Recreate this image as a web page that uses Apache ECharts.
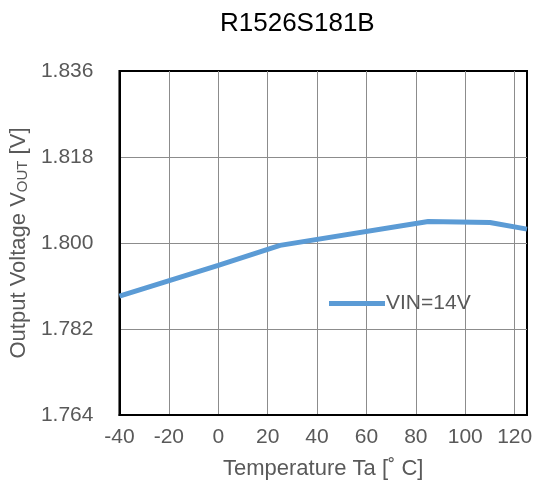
<!DOCTYPE html>
<html>
<head>
<meta charset="utf-8">
<script src="https://cdn.jsdelivr.net/npm/echarts@6/dist/echarts.min.js"></script>
<style>html,body{margin:0;padding:0;background:#fff}#c{width:536px;height:491px}</style>
</head>
<body>
<div id="c"></div>
<script>
const titleText = 'R1526S181B';
const seriesName = 'VIN=14V';
const temps = [-40, 0, 25, 85, 110, 125];
const vout = [1.7889, 1.7953, 1.7995, 1.8045, 1.8043, 1.8029];
const xMin = -40, xMax = 125, xStep = 20;
const yMin = 1.764, yMax = 1.836, yStep = 0.018;

const chart = echarts.init(document.getElementById('c'), null, {renderer: 'canvas'});
const font = 'Liberation Sans, Arial, sans-serif';
const gray = '#595959';
chart.setOption({
  animation: false,
  title: {
    text: titleText, left: 215, top: 6,
    textStyle: {fontFamily: font, fontSize: 26, fontWeight: 'normal', color: '#000'}
  },
  legend: {
    left: 324, top: 288, itemWidth: 56, itemHeight: 5, itemGap: 0,
    textStyle: {fontFamily: font, fontSize: 21, color: gray, padding: [0, 0, 0, -4]},
    data: [{name: seriesName, icon: 'path://M0,0 L56,0 L56,5 L0,5 Z'}]
  },
  grid: {left: 116, right: 9, top: 71, bottom: 76, show: true, borderColor: '#000', borderWidth: 2},
  xAxis: {
    type: 'value', min: xMin, max: xMax, interval: xStep,
    name: 'Temperature Ta [˚ C]', nameLocation: 'middle', nameGap: 43,
    nameTextStyle: {fontFamily: font, fontSize: 22, color: gray},
    axisLine: {show: true, onZero: false, lineStyle: {color: '#000', width: 2}}, axisTick: {show: false},
    axisLabel: {fontFamily: font, fontSize: 21, color: gray, margin: 12, showMaxLabel: false},
    splitLine: {show: true, showMinLine: false, showMaxLine: false, lineStyle: {color: '#8c8c8c', width: 1}}
  },
  yAxis: {
    type: 'value', min: yMin, max: yMax, interval: yStep,
    name: 'Output Voltage V{s|OUT} [V]', nameLocation: 'middle', nameGap: 84, nameRotate: 90,
    nameTextStyle: {fontFamily: font, fontSize: 22, color: gray,
      rich: {s: {fontFamily: font, fontSize: 15, color: gray, verticalAlign: 'bottom', padding: [6,0,0,0]}}},
    axisLine: {show: true, onZero: false, lineStyle: {color: '#000', width: 2}}, axisTick: {show: false},
    axisLabel: {fontFamily: font, fontSize: 21, color: gray, margin: 26,
      formatter: v => v.toFixed(3)},
    splitLine: {show: true, showMinLine: false, showMaxLine: false, lineStyle: {color: '#8c8c8c', width: 1}}
  },
  series: [{
    name: seriesName, type: 'line', showSymbol: false,
    data: temps.map((t, i) => [t, vout[i]]),
    lineStyle: {color: '#5b9bd5', width: 5},
    itemStyle: {color: '#5b9bd5'}
  }]
});
</script>
</body>
</html>
